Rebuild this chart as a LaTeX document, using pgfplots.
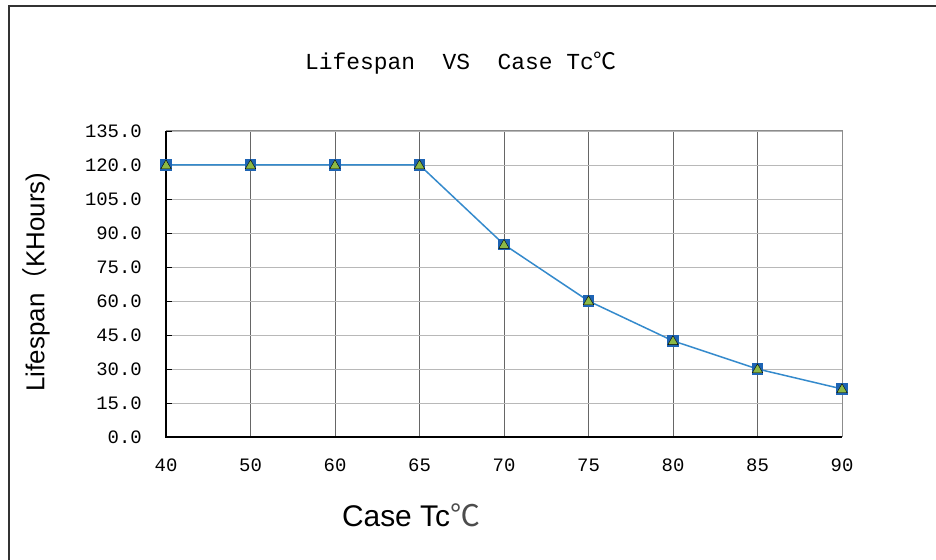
\documentclass[border=0pt]{standalone}
\usepackage{fontspec}
\usepackage{pgfplots}
\pgfplotsset{compat=1.18}
\setmainfont{Liberation Sans}
\newfontfamily\monof{Liberation Mono}
\newfontfamily\cjk{Noto Sans CJK SC}
\definecolor{lineblue}{RGB}{52,138,204}
\definecolor{markblue}{RGB}{30,100,180}
\definecolor{markgreen}{RGB}{140,185,70}

\begin{document}
\begin{tikzpicture}[x=1bp,y=1bp]
\path[use as bounding box] (0,0) rectangle (936,560);
\draw[line width=2.5bp, black!80] (9,0) -- (9,554) -- (936,554);

\node[font=\monof\fontsize{23}{23}\selectfont] at (461,497) {Lifespan\ \ VS\ \ Case Tc{\cjk ℃}};
\node[font=\fontsize{30}{30}\selectfont] at (411,45) {Case Tc{\cjk\color{black!70}℃}};
\node[rotate=90, font=\fontsize{26}{26}\selectfont] at (36,278) {Lifespan{\cjk （}KHours)};

\begin{axis}[at={(166bp,123bp)}, anchor=south west,
  scale only axis, width=676bp, height=306bp,
  xmin=0, xmax=8, ymin=0, ymax=135,
  xtick={0,...,8}, xticklabels={40,50,60,65,70,75,80,85,90},
  ytick={0,15,...,135},
  xmajorgrids, ymajorgrids,
  x grid style={black!60, line width=0.8bp},
  y grid style={black!28, line width=0.8bp},
  axis line style={black!45, line width=1bp},
  xtick style={draw=none},
  ytick pos=left,
  ytick style={black, line width=0.8bp},
  tick align=inside, major tick length=6bp,
  /pgf/number format/assume math mode=true,
  /pgf/number format/fixed, /pgf/number format/precision=1,
  /pgf/number format/fixed zerofill,
  ticklabel style={font=\monof\fontsize{19}{19}\selectfont, inner sep=0pt},
  yticklabel style={xshift=-24bp},
  xticklabel style={yshift=-22bp},
  clip=false]
\addplot[lineblue, line width=1.5bp, mark=square*, mark size=5bp,
  mark options={fill=markblue, draw=markblue}] coordinates {
  (0,120) (1,120) (2,120) (3,120) (4,84.9) (5,60) (6,42.4) (7,30) (8,21.2) };
\addplot[only marks, mark=triangle*, mark size=6bp,
  mark options={fill=markgreen, draw=none, yshift=-0.8bp}] coordinates {
  (0,120) (1,120) (2,120) (3,120) (4,84.9) (5,60) (6,42.4) (7,30) (8,21.2) };
\draw[black, line width=1.8bp] (rel axis cs:0,1) -- (rel axis cs:0,0) -- (rel axis cs:1,0);
\end{axis}
\end{tikzpicture}
\end{document}
